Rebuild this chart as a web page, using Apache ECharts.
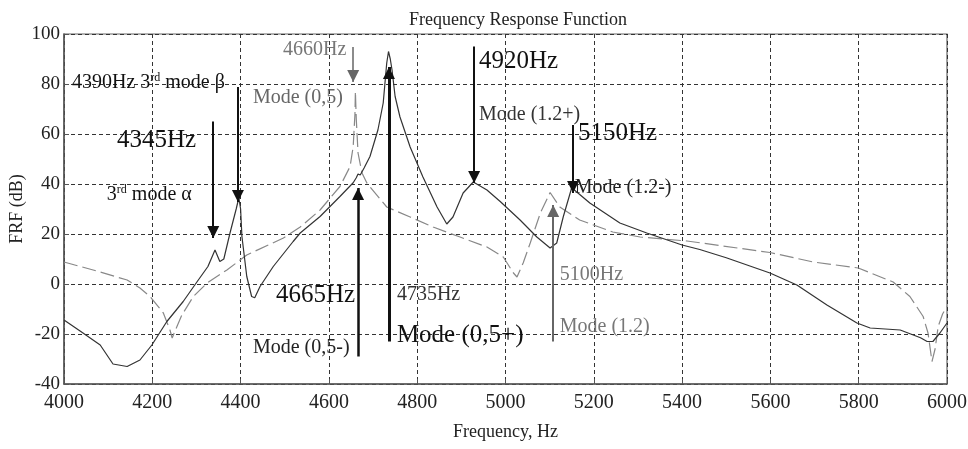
<!DOCTYPE html>
<html>
<head>
<meta charset="utf-8">
<script src="https://cdn.jsdelivr.net/npm/echarts@6/dist/echarts.min.js"></script>
<style>html,body{margin:0;padding:0;background:#fff;}#c{width:968px;height:449px;}</style>
</head>
<body>
<div id="c"></div>
<script>
// ---- data ----
const solidHz = [4000,4043,4082,4111,4143,4172,4199,4233,4270,4301,4326,4342,4353,4362,4376,4390,4396,4400,4403,4414,4425,4432,4444,4474,4519,4535,4580,4625,4655,4662,4666,4671,4680,4693,4711,4723,4731,4735,4739,4743,4750,4761,4784,4813,4845,4867,4881,4904,4927,4958,4988,5033,5071,5101,5116,5131,5150,5160,5191,5259,5320,5400,5440,5500,5599,5660,5728,5796,5826,5894,5940,5955,5968,5984,6000];
const solidDb = [-14.4,-19.6,-24.4,-32,-33,-30.4,-24.4,-15,-7,0.8,7,13.6,9,10,20.4,30,34.5,30,19,3,-5,-5.5,-1,7,17,20.4,27,35,40.5,42.5,44,43.6,46.5,51,61.6,72.4,88.4,93,90,85.6,75,66.8,54.8,42.8,30.8,24,26.8,36.4,40.8,37.6,33,25.6,18.8,14.4,16.4,27,38.5,37,32.4,24.4,20.4,15.6,13.8,10.5,4.4,-0.4,-8.4,-15.6,-17.6,-18.4,-21.5,-23,-23,-19.6,-15.6];
const dashHz = [4000,4066,4143,4172,4195,4225,4240,4245,4251,4267,4293,4324,4369,4414,4497,4535,4580,4625,4648,4655,4659,4660,4662,4666,4675,4686,4731,4784,4836,4897,4958,4995,5018,5026,5040,5056,5079,5101,5123,5168,5243,5305,5411,5599,5697,5799,5878,5916,5946,5957,5966,5973,5980,5990,6000];
const dashDb = [8.8,5.6,1.6,-1.6,-5,-11.6,-18.4,-21.6,-19,-12.4,-5,0.4,5.6,11.6,18.4,22.8,29.6,39,47,55,68,77,66,52.4,44.4,40.4,30.8,26.8,22.8,18.8,14.8,10.8,4.4,2.8,8.4,16.4,28.4,36.6,30.8,25.6,20.8,18.8,17.2,12.6,8.8,6.4,0.8,-5,-13,-19.6,-31,-26,-17,-12,-9];
const xTicks = {min: 4000, max: 6000, step: 200};
const yTicks = {min: -40, max: 100, step: 20};

// annotation arrows: frequency, start dB, tip dB
const arrowHz   = [4394, 4338, 4929, 5153, 4655, 4666, 4736, 5108];
const arrowFrom = [78.8, 65, 95, 63.6, 94.8, -29, -23, -23];
const arrowTo   = [32.8, 18.4, 40.4, 36.4, 80.8, 38.4, 86.8, 31.6];
// annotation texts: text, frequency (left edge), dB (middle)
const labelText = ['4390Hz 3rd mode β','4345Hz','3rd mode α','4660Hz','Mode (0,5)','4920Hz','Mode (1.2+)','5150Hz','Mode (1.2-)','4665Hz','Mode (0,5-)','4735Hz','Mode (0,5+)','5100Hz','Mode (1.2)'];
const labelHz   = [4018, 4120, 4097, 4496, 4428, 4940, 4940, 5164, 5157, 4480, 4428, 4754, 4754, 5123, 5123];
const labelDb   = [80.4, 57.6, 35.6, 93.6, 74.4, 89.2, 67.6, 60.4, 38.4, -4.4, -25.6, -4.4, -20.4, 3.6, -17.2];

// ---- styling (not data) ----
const FONT = 'Liberation Serif';
const arrowStyle = [
  {c:'#111', w:2}, {c:'#111', w:2}, {c:'#111', w:2}, {c:'#111', w:2},
  {c:'#666', w:1.5}, {c:'#111', w:2.5}, {c:'#111', w:3}, {c:'#666', w:2}
];
const labelStyle = [
  {s:20,c:'#111'},{s:25,c:'#111'},{s:20,c:'#111'},{s:20,c:'#777'},{s:20,c:'#666'},
  {s:25,c:'#111'},{s:20,c:'#333'},{s:25,c:'#111'},{s:20,c:'#222'},{s:25,c:'#111'},
  {s:20,c:'#222'},{s:20,c:'#333'},{s:25,c:'#111'},{s:20,c:'#777'},{s:20,c:'#777'}
];

function fmtLabel(t, i) {
  // superscript "rd"
  if (t.indexOf('3rd') >= 0) {
    const parts = t.split('3rd');
    return '{n' + i + '|' + parts[0] + '3}{s' + i + '|rd}{n' + i + '|' + parts[1] + '}';
  }
  return '{n' + i + '|' + t + '}';
}

const solid = solidHz.map((h, i) => [h, solidDb[i]]);
const dashed = dashHz.map((h, i) => [h, dashDb[i]]);

const arrowData = arrowHz.map((h, i) => [
  {coord: [h, arrowFrom[i]], lineStyle: {color: arrowStyle[i].c, width: arrowStyle[i].w, type: 'solid'}, itemStyle: {color: arrowStyle[i].c}},
  {coord: [h, arrowTo[i]]}
]);

const labelData = labelText.map((t, i) => {
  const rich = {};
  rich['n' + i] = {fontFamily: FONT, fontSize: labelStyle[i].s, color: labelStyle[i].c};
  rich['s' + i] = {fontFamily: FONT, fontSize: 12, color: labelStyle[i].c, padding: [0, 0, 10, 0]};
  return {
    coord: [labelHz[i], labelDb[i]],
    symbol: 'circle', symbolSize: 0,
    label: {show: true, position: 'inside', align: 'left', verticalAlign: 'middle',
            formatter: fmtLabel(t, i), rich: rich}
  };
});

const chart = echarts.init(document.getElementById('c'), null, {renderer: 'canvas'});
chart.setOption({
  animation: false,
  backgroundColor: '#fff',
  textStyle: {fontFamily: FONT},
  title: {
    text: 'Frequency Response Function', left: 513, top: 6, textAlign: 'center',
    textStyle: {fontFamily: FONT, fontSize: 18, fontWeight: 'normal', color: '#222'}
  },
  grid: {left: 64, right: 21, top: 34, bottom: 65, containLabel: false, outerBoundsMode: 'none',
         show: true, borderColor: '#666', borderWidth: 1.2},
  xAxis: {
    type: 'value', min: xTicks.min, max: xTicks.max, interval: xTicks.step,
    name: 'Frequency, Hz', nameLocation: 'middle', nameGap: 39, nameMoveOverlap: false,
    nameTextStyle: {fontFamily: FONT, fontSize: 18, color: '#222'},
    axisLine: {show: true, onZero: false, lineStyle: {color: '#555', width: 1.5}},
    axisTick: {show: true, inside: true, length: 5, lineStyle: {color: '#555'}},
    axisLabel: {fontFamily: FONT, fontSize: 20, color: '#222', margin: 9, formatter: v => String(v)},
    splitLine: {show: true, lineStyle: {color: '#333', type: [4, 3], width: 1}}
  },
  yAxis: {
    type: 'value', min: yTicks.min, max: yTicks.max, interval: yTicks.step,
    name: 'FRF (dB)', nameLocation: 'middle', nameGap: 38, nameMoveOverlap: false,
    nameTextStyle: {fontFamily: FONT, fontSize: 18, color: '#222'},
    axisLine: {show: true, onZero: false, lineStyle: {color: '#555', width: 1.5}},
    axisTick: {show: true, inside: true, length: 5, lineStyle: {color: '#555'}},
    axisLabel: {fontFamily: FONT, fontSize: 19, color: '#222', margin: 4, formatter: v => String(v)},
    splitLine: {show: true, lineStyle: {color: '#333', type: [4, 3], width: 1}}
  },
  series: [
    {
      type: 'line', data: dashed, showSymbol: false, symbol: 'none', smooth: false,
      lineStyle: {color: '#888', width: 1.2, type: [14, 5]}, z: 2
    },
    {
      type: 'line', data: solid, showSymbol: false, symbol: 'none', smooth: false,
      lineStyle: {color: '#333', width: 1.2}, z: 3,
      markLine: {
        silent: true, animation: false,
        symbol: ['none', 'triangle'], symbolSize: [12, 12],
        symbolOffset: [[0, 0], [0, 6]],
        label: {show: false},
        data: arrowData
      },
      markPoint: {
        silent: true, animation: false,
        data: labelData
      }
    }
  ]
});
</script>
</body>
</html>
